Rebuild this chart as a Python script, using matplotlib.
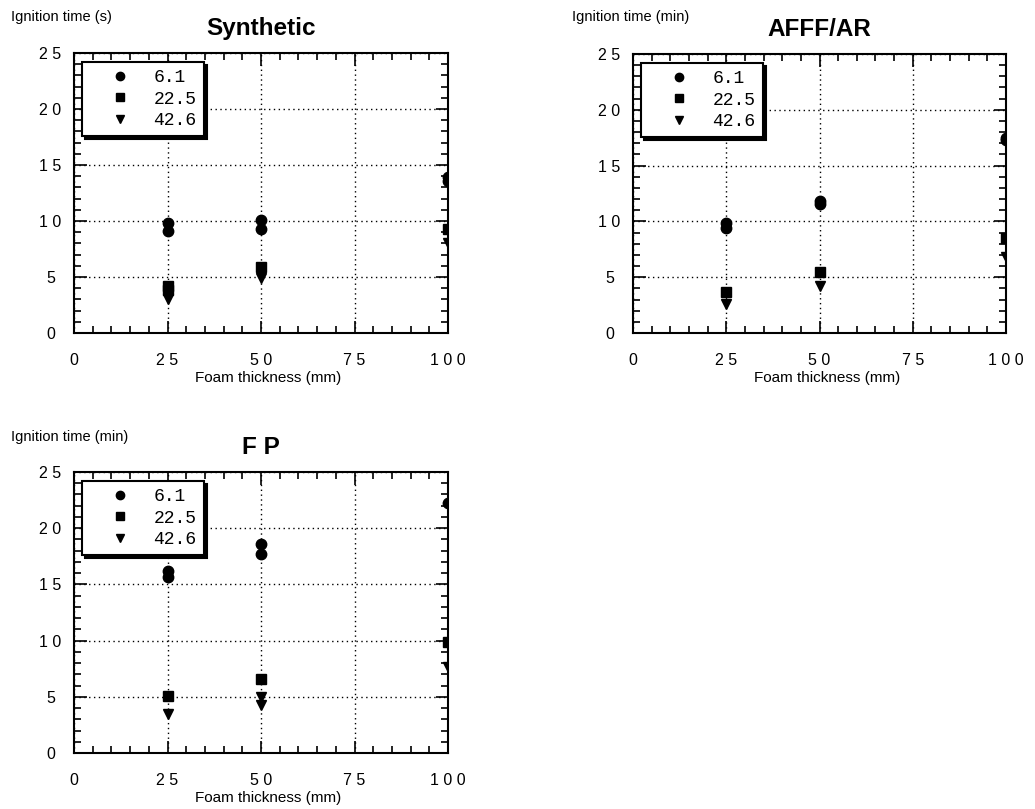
import matplotlib
matplotlib.use("Agg")
import matplotlib.pyplot as plt
from matplotlib.ticker import MultipleLocator

plt.rcParams['font.family'] = ['Liberation Sans', 'DejaVu Sans']

# ---- data ----
series_labels = ["6.1", "22.5", "42.6"]
markers = ["o", "s", "v"]

syn_x_61 = [25, 25, 50, 50, 100, 100]
syn_y_61 = [9.8, 9.1, 10.1, 9.25, 13.9, 13.6]
syn_x_225 = [25, 25, 50, 100]
syn_y_225 = [4.2, 3.8, 5.85, 9.25]
syn_x_426 = [25, 25, 50, 100]
syn_y_426 = [3.4, 3.0, 4.9, 8.0]

afff_x_61 = [25, 25, 50, 50, 100, 100]
afff_y_61 = [9.9, 9.4, 11.8, 11.6, 17.5, 17.3]
afff_x_225 = [25, 50, 100]
afff_y_225 = [3.7, 5.5, 8.5]
afff_x_426 = [25, 50, 100]
afff_y_426 = [2.6, 4.2, 6.8]

fp_x_61 = [25, 25, 50, 50, 100]
fp_y_61 = [16.2, 15.7, 18.6, 17.7, 22.2]
fp_x_225 = [25, 50, 100]
fp_y_225 = [5.1, 6.6, 9.9]
fp_x_426 = [25, 50, 50, 100]
fp_y_426 = [3.5, 5.0, 4.3, 7.65]

titles = ["Synthetic", "AFFF/AR", "F P"]
ylabels = ["Ignition time (s)", "Ignition time (min)", "Ignition time (min)"]
xlabel = "Foam thickness (mm)"
xtick_vals = [0, 25, 50, 75, 100]
xtick_labels = ["0", "2 5", "5 0", "7 5", "1 0 0"]
ytick_vals = [0, 5, 10, 15, 20, 25]
ytick_labels = ["0", "5", "1 0", "1 5", "2 0", "2 5"]

panels = [
    [(syn_x_61, syn_y_61), (syn_x_225, syn_y_225), (syn_x_426, syn_y_426)],
    [(afff_x_61, afff_y_61), (afff_x_225, afff_y_225), (afff_x_426, afff_y_426)],
    [(fp_x_61, fp_y_61), (fp_x_225, fp_y_225), (fp_x_426, fp_y_426)],
]

W, H = 1035, 809
fig = plt.figure(figsize=(W / 100, H / 100), dpi=100)

# axes boxes in pixels: left, top, right, bottom
boxes = [(74, 53, 448, 333), (633, 54, 1006, 333), (74, 472, 448, 753)]
ylabel_pos = [(11, 17), (572, 17), (11, 437)]

for i, (l, t, r, b) in enumerate(boxes):
    ax = fig.add_axes([l / W, 1 - b / H, (r - l) / W, (b - t) / H])
    ax.set_xlim(0, 100)
    ax.set_ylim(0, 25)
    for k, (xs, ys) in enumerate(panels[i]):
        ax.plot(xs, ys, linestyle="none", marker=markers[k], color="black",
                markersize=7.5, label=series_labels[k], zorder=3)
    ax.set_xticks(xtick_vals)
    ax.set_xticklabels(xtick_labels)
    ax.set_yticks(ytick_vals)
    ax.set_yticklabels(ytick_labels, ha="center")
    ax.xaxis.set_minor_locator(MultipleLocator(5))
    ax.yaxis.set_minor_locator(MultipleLocator(1))
    ax.tick_params(which="both", direction="in", top=True, right=True,
                   color="black", width=1.2)
    ax.tick_params(which="major", length=9, labelsize=11.5)
    ax.tick_params(which="minor", length=5)
    ax.tick_params(axis="x", which="major", pad=14.5)
    ax.tick_params(axis="y", which="major", pad=17)
    for s in ax.spines.values():
        s.set_linewidth(1.5)
        s.set_color("black")
    ax.grid(True, which="major", linestyle=(0, (1, 2.5)), color="black",
            linewidth=1.0)
    ax.set_axisbelow(True)
    ax.set_title(titles[i], fontsize=17.5, fontweight="bold", pad=13)
    ax.set_xlabel(xlabel, fontsize=11, labelpad=0)
    ax.xaxis.set_label_coords(0.52, -0.135)
    fig.text(ylabel_pos[i][0] / W, 1 - ylabel_pos[i][1] / H, ylabels[i],
             fontsize=10.5, ha="left", va="center")
    leg = ax.legend(loc="upper left", bbox_to_anchor=(0.022, 0.968),
                    borderaxespad=0, fancybox=False, frameon=True,
                    edgecolor="black", framealpha=1,
                    prop={"family": "Liberation Mono", "size": 13},
                    markerscale=0.8, handlelength=3.4, handletextpad=0.15,
                    labelspacing=0.25, borderpad=0.4,
                    shadow={"color": "black", "alpha": 1})
    leg.get_frame().set_linewidth(1.5)

fig.savefig("out.png", dpi=100)
